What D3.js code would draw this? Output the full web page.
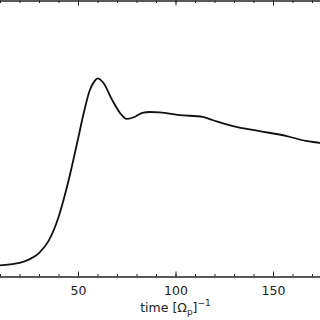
<!DOCTYPE html>
<html>
<head>
<meta charset="utf-8">
<script src="https://cdnjs.cloudflare.com/ajax/libs/d3/7.8.5/d3.min.js"></script>
<style>
  body { margin: 0; background: #fff; }
  svg { display: block; }
  .axis text { font-family: "DejaVu Sans", "Liberation Sans", sans-serif; font-size: 12.5px; fill: #222; }
  .axis path, .axis line { stroke: #222; }
</style>
</head>
<body>
<div id="chart"></div>
<script>
// time [1/Omega_p] and curve value (arbitrary units)
var times  = [5, 10, 15, 20, 25, 30, 35, 40, 45, 50, 53, 56, 58.5, 60, 63, 67.5, 71.5, 75,
              79, 83, 87, 92, 102, 114, 119, 129.5, 143, 157, 167, 174, 180];
var values = [0.033, 0.040, 0.044, 0.049, 0.062, 0.085, 0.130, 0.215, 0.343, 0.498, 0.594,
              0.674, 0.708, 0.718, 0.702, 0.640, 0.593, 0.571, 0.578, 0.593, 0.596, 0.595,
              0.585, 0.578, 0.567, 0.545, 0.527, 0.509, 0.491, 0.484, 0.475];
var minor_ticks = d3.range(0, 201, 10);
var major_ticks = [0, 50, 100, 150, 200];
var labelled_ticks = [50, 100, 150];

var W = 320, H = 320;
var plot_top = 0.5, plot_bottom = 276.5;

var svg = d3.select("#chart").append("svg")
            .attr("width", W)
            .attr("height", H);

// the picture is a crop, so the plot runs past the left and right edges
var xscale = d3.scaleLinear()
               .domain([0, 200])
               .range([-19.5, 370.5]);

var yscale = d3.scaleLinear()
               .domain([0, 1])
               .range([plot_bottom, plot_top]);

svg.append("clipPath")
   .attr("id", "clip")
   .append("rect")
   .attr("x", 0).attr("y", plot_top)
   .attr("width", W).attr("height", plot_bottom - plot_top);

// bottom axis, ticks pointing up into the plot
var bottom_minor = d3.axisBottom(xscale).tickValues(minor_ticks).tickSize(-2.5).tickFormat("");
var bottom_major = d3.axisBottom(xscale).tickValues(major_ticks).tickSize(-5).tickFormat("");
var bottom_labels = d3.axisBottom(xscale).tickValues(labelled_ticks).tickSize(0).tickPadding(10)
                      .tickFormat(d3.format("d"));

svg.append("g")
   .attr("class", "axis")
   .attr("transform", "translate(0," + plot_bottom + ")")
   .call(bottom_minor);

svg.append("g")
   .attr("class", "axis")
   .attr("transform", "translate(0," + plot_bottom + ")")
   .call(bottom_major);

svg.append("g")
   .attr("class", "axis")
   .attr("transform", "translate(0," + plot_bottom + ")")
   .call(bottom_labels)
   .select(".domain").remove();

// top axis, ticks pointing down, no labels
var top_minor = d3.axisTop(xscale).tickValues(minor_ticks).tickSize(-2.5).tickFormat("");
var top_major = d3.axisTop(xscale).tickValues(major_ticks).tickSize(-5).tickFormat("");

svg.append("g")
   .attr("class", "axis")
   .attr("transform", "translate(0," + plot_top + ")")
   .call(top_minor);

svg.append("g")
   .attr("class", "axis")
   .attr("transform", "translate(0," + plot_top + ")")
   .call(top_major);

svg.selectAll(".axis .domain").attr("stroke", "#444");

// curve
var line = d3.line()
             .x(function(d, i) { return xscale(times[i]); })
             .y(function(d) { return yscale(d); })
             .curve(d3.curveMonotoneX);

svg.append("path")
   .datum(values)
   .attr("clip-path", "url(#clip)")
   .attr("d", line)
   .attr("fill", "none")
   .attr("stroke", "#111")
   .attr("stroke-width", 1.8);

// x label
var label = svg.append("text")
               .attr("x", xscale(100))
               .attr("y", 312)
               .attr("text-anchor", "middle")
               .style("font-family", "DejaVu Sans, Liberation Sans, sans-serif")
               .style("font-size", "12.5px")
               .style("fill", "#222");
label.append("tspan").text("time  [Ω");
label.append("tspan").attr("dy", 3).style("font-size", "9px").text("p");
label.append("tspan").attr("dy", -3).text("]");
label.append("tspan").attr("dy", -6).style("font-size", "9px").text("−1");
</script>
</body>
</html>
